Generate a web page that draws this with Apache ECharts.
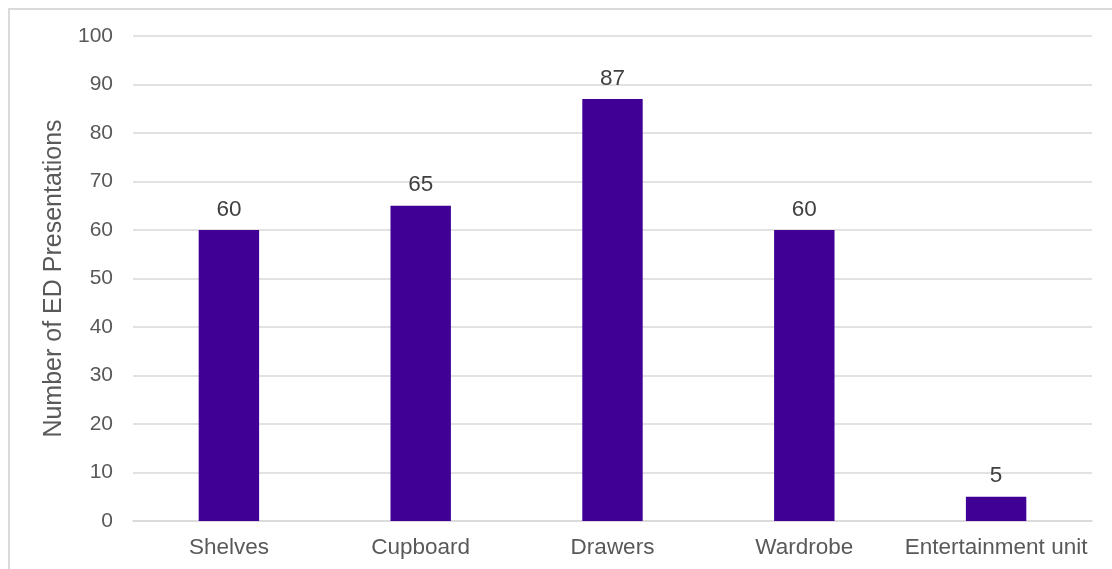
<!DOCTYPE html>
<html>
<head>
<meta charset="utf-8">
<script src="https://cdn.jsdelivr.net/npm/echarts@6/dist/echarts.min.js"></script>
<style>
html,body{margin:0;padding:0;background:#fff;overflow:hidden;}
#frame{position:absolute;left:8px;top:8px;width:1130px;height:590px;border:2px solid #dadada;box-sizing:border-box;}
#chart{position:absolute;left:0;top:0;width:1112px;height:569px;}
</style>
</head>
<body>
<div id="frame"></div>
<div id="chart"></div>
<script>
const categories = ["Shelves", "Cupboard", "Drawers", "Wardrobe", "Entertainment unit"];
const values = [60, 65, 87, 60, 5];
const yAxisTitle = "Number of ED Presentations";

const chart = echarts.init(document.getElementById('chart'), null, {renderer: 'canvas'});
const font = 'Liberation Sans, Arial, sans-serif';
chart.setOption({
  animation: false,
  grid: {left: 133, right: 20, top: 36, bottom: 48, containLabel: false},
  xAxis: {
    type: 'category',
    data: categories,
    axisLine: {show: true, lineStyle: {color: '#d9d9d9', width: 1.5}},
    axisTick: {show: false},
    axisLabel: {color: '#595959', fontSize: 22.5, fontFamily: font, margin: 15, interval: 0}
  },
  yAxis: {
    type: 'value',
    min: 0, max: 100, interval: 10,
    name: yAxisTitle,
    nameLocation: 'middle',
    nameGap: 44,
    nameRotate: 90,
    nameTextStyle: {color: '#595959', fontSize: 25, fontFamily: font},
    axisLine: {show: false},
    axisTick: {show: false},
    axisLabel: {color: '#595959', fontSize: 21, fontFamily: font, margin: 20},
    splitLine: {lineStyle: {color: '#d9d9d9', width: 1.5}}
  },
  series: [{
    type: 'bar',
    data: values,
    barWidth: '31.5%',
    itemStyle: {color: '#400096'},
    label: {show: true, position: 'top', distance: 9, color: '#404040', fontSize: 22.5, fontFamily: font}
  }]
});
</script>
</body>
</html>
